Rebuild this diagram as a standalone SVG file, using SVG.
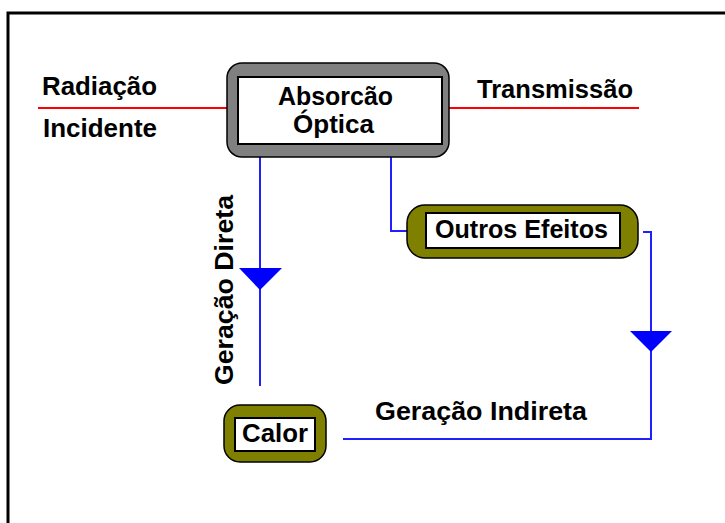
<svg xmlns="http://www.w3.org/2000/svg" width="725" height="523" viewBox="0 0 725 523">
<style>
  .t { font-family: "Liberation Sans", Arial, sans-serif; font-weight: bold; font-size: 26px; fill: #000; }
  .red { stroke: #ff0000; stroke-width: 2; fill: none; }
  .blue { stroke: #2020ff; stroke-width: 2; fill: none; }
  .tri { fill: #0000ff; }
  .outerGray { fill: #808080; stroke: #000; stroke-width: 1.5; }
  .outerOlive { fill: #808000; stroke: #000; stroke-width: 1.5; }
  .inner { fill: #fff; stroke: #000; stroke-width: 2; }
</style>
<rect x="0" y="0" width="725" height="523" fill="#fff"/>
<rect x="8" y="13" width="760" height="560" fill="none" stroke="#000" stroke-width="3"/>

<g id="connectors">
  <line class="red" x1="38" y1="108" x2="227" y2="108"/>
  <line class="red" x1="449" y1="108" x2="639" y2="108"/>
  <line class="blue" x1="260" y1="157" x2="260" y2="386"/>
  <polygon class="tri" points="239,268 282,268 260,290"/>
  <polyline class="blue" points="391,157 391,231 407,231"/>
  <polyline class="blue" points="643,232 651,232 651,439 343,439"/>
  <polygon class="tri" points="630,331 672,331 651,352"/>
</g>

<g id="labels">
  <text class="t" x="42" y="95" textLength="115" lengthAdjust="spacingAndGlyphs">Radiação</text>
  <text class="t" x="43" y="137" textLength="114" lengthAdjust="spacingAndGlyphs">Incidente</text>
  <text class="t" x="477" y="98" textLength="156" lengthAdjust="spacingAndGlyphs">Transmissão</text>
  <text class="t" x="375" y="420" textLength="212" lengthAdjust="spacingAndGlyphs">Geração Indireta</text>
  <text class="t" transform="translate(233,385) rotate(-90)" x="0" y="0" textLength="190" lengthAdjust="spacingAndGlyphs">Geração Direta</text>
</g>

<g id="node-absorcao">
  <rect class="outerGray" x="227" y="63" width="222" height="94" rx="15" ry="15"/>
  <rect class="inner" x="238" y="77" width="204" height="67"/>
  <text class="t" x="278" y="105" textLength="115" lengthAdjust="spacingAndGlyphs">Absorcão</text>
  <text class="t" x="293" y="133" textLength="81" lengthAdjust="spacingAndGlyphs">Óptica</text>
</g>

<g id="node-outros">
  <rect class="outerOlive" x="407" y="205" width="231" height="53" rx="18" ry="18"/>
  <rect class="inner" x="426" y="213" width="194" height="35"/>
  <text class="t" x="435" y="238" textLength="173" lengthAdjust="spacingAndGlyphs">Outros Efeitos</text>
</g>

<g id="node-calor">
  <rect class="outerOlive" x="224" y="405" width="102" height="57" rx="16" ry="16"/>
  <rect class="inner" x="235" y="418" width="80" height="33"/>
  <text class="t" x="242" y="442" textLength="66" lengthAdjust="spacingAndGlyphs">Calor</text>
</g>
</svg>
